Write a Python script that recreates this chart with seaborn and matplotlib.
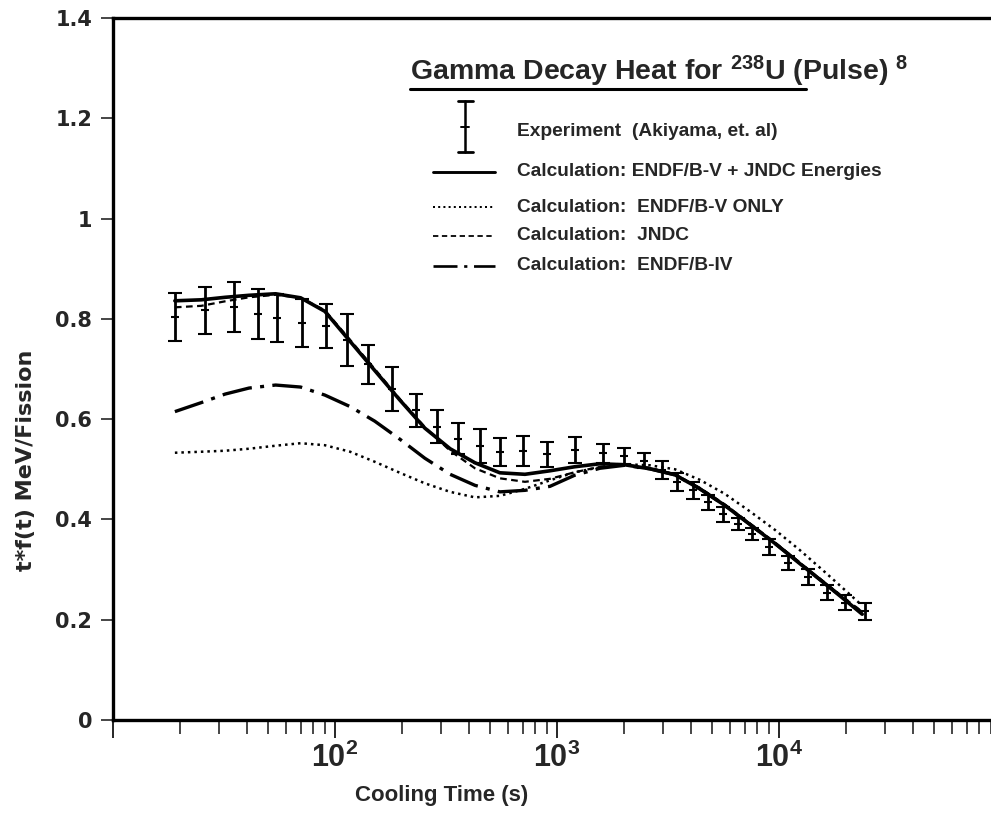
import matplotlib
matplotlib.use("Agg")
import numpy as np
import pandas as pd
import seaborn as sns
import matplotlib.pyplot as plt
from matplotlib.ticker import LogLocator, FuncFormatter, NullFormatter, FixedLocator

# ---------------- data ----------------
time_grid = [19, 25, 32, 41, 54, 70, 90, 117, 151, 196, 254, 330, 427, 553, 717,
             930, 1200, 1560, 2020, 2620, 3400, 4400, 5700, 7400, 9600, 12400,
             16100, 20900, 23700]
calc_b5_jndc = [0.836, 0.838, 0.843, 0.847, 0.850, 0.842, 0.815, 0.755, 0.697,
                0.638, 0.582, 0.541, 0.513, 0.493, 0.490, 0.497, 0.505, 0.511,
                0.509, 0.501, 0.489, 0.461, 0.428, 0.390, 0.352, 0.312, 0.272,
                0.231, 0.211]
calc_b5_only = [0.533, 0.535, 0.537, 0.541, 0.547, 0.552, 0.548, 0.535, 0.515,
                0.493, 0.472, 0.455, 0.444, 0.447, 0.461, 0.478, 0.494, 0.504,
                0.510, 0.508, 0.500, 0.479, 0.451, 0.416, 0.379, 0.339, 0.295,
                0.250, 0.228]
calc_jndc = [0.823, 0.826, 0.835, 0.843, 0.848, 0.842, 0.817, 0.758, 0.700,
             0.640, 0.584, 0.537, 0.502, 0.482, 0.475, 0.481, 0.494, 0.505,
             0.509, 0.503, 0.490, 0.463, 0.430, 0.392, 0.354, 0.314, 0.274,
             0.234, 0.216]
calc_b4 = [0.615, 0.633, 0.650, 0.662, 0.668, 0.664, 0.648, 0.625, 0.596,
           0.560, 0.522, 0.490, 0.468, 0.455, 0.458, 0.466, 0.488, 0.502,
           0.508, 0.501, 0.489, 0.461, 0.428, 0.390, 0.352, 0.313, 0.272,
           0.233, 0.214]

exp_time = [19, 26, 35, 45, 55, 71, 91, 113, 141, 180, 232, 288, 359, 450, 553,
            700, 897, 1200, 1607, 1995, 2455, 2963, 3480, 4080, 4790, 5600,
            6560, 7540, 9030, 10960, 13500, 16500, 19800, 24400]
exp_low = [0.756, 0.770, 0.774, 0.760, 0.754, 0.744, 0.742, 0.705, 0.670, 0.616,
           0.585, 0.552, 0.530, 0.512, 0.507, 0.507, 0.505, 0.512, 0.513, 0.511,
           0.502, 0.481, 0.457, 0.441, 0.419, 0.395, 0.378, 0.358, 0.329, 0.299,
           0.269, 0.239, 0.219, 0.199]
exp_high = [0.852, 0.864, 0.873, 0.860, 0.850, 0.840, 0.830, 0.809, 0.748, 0.703,
            0.650, 0.618, 0.592, 0.580, 0.562, 0.566, 0.555, 0.564, 0.550, 0.543,
            0.533, 0.517, 0.492, 0.475, 0.449, 0.425, 0.402, 0.382, 0.360, 0.327,
            0.302, 0.269, 0.249, 0.234]

y_ticks = [0, 0.2, 0.4, 0.6, 0.8, 1.0, 1.2, 1.4]
y_tick_labels = ["0", "0.2", "0.4", "0.6", "0.8", "1", "1.2", "1.4"]
legend_labels = ["Experiment  (Akiyama, et. al)",
                 "Calculation: ENDF/B-V + JNDC Energies",
                 "Calculation:  ENDF/B-V ONLY",
                 "Calculation:  JNDC",
                 "Calculation:  ENDF/B-IV"]

# ---------------- style ----------------
sns.set_theme(style="white")
plt.rcParams["font.family"] = ["Liberation Sans", "DejaVu Sans"]
plt.rcParams["font.weight"] = "bold"
plt.rcParams["mathtext.fontset"] = "custom"
plt.rcParams["mathtext.rm"] = "Liberation Sans:bold"
plt.rcParams["mathtext.bf"] = "Liberation Sans:bold"
plt.rcParams["mathtext.default"] = "rm"

fig = plt.figure(figsize=(9.91, 8.15), dpi=100)
ax = fig.add_axes([113 / 991, 1 - 720 / 815, 878 / 991, 702 / 815])

curves = pd.DataFrame({
    "t": time_grid * 4,
    "v": calc_b5_jndc + calc_b5_only + calc_jndc + calc_b4,
    "series": (["b5jndc"] * len(time_grid) + ["b5only"] * len(time_grid)
               + ["jndc"] * len(time_grid) + ["b4"] * len(time_grid)),
})

styles = {
    "b5jndc": dict(linestyle="-", linewidth=2.6),
    "b5only": dict(linestyle=(0, (1, 1.6)), linewidth=1.8),
    "jndc": dict(linestyle=(0, (3, 2)), linewidth=1.6),
    "b4": dict(linestyle=(0, (9, 2.5, 1.2, 2.5)), linewidth=2.4),
}
for key, st in styles.items():
    sub = curves[curves["series"] == key]
    sns.lineplot(data=sub, x="t", y="v", color="black", ax=ax,
                 estimator=None, sort=False, **st)

exp_mid = [(a + b) / 2 for a, b in zip(exp_low, exp_high)]
exp_err = [(b - a) / 2 for a, b in zip(exp_low, exp_high)]
ax.errorbar(exp_time, exp_mid, yerr=exp_err, fmt="_", color="black",
            markersize=6, markeredgewidth=1.5, elinewidth=2.0,
            capsize=5, capthick=2.2, zorder=5)

ax.set_xscale("log")
ax.set_xlim(10, 10 ** (1 + 878 / 222))
ax.set_ylim(0, 1.4)

ax.yaxis.set_major_locator(FixedLocator(y_ticks))
ax.set_yticklabels(y_tick_labels, fontfamily="DejaVu Sans", fontweight="bold")

ax.xaxis.set_major_locator(LogLocator(base=10, numticks=10))
ax.xaxis.set_minor_locator(LogLocator(base=10, subs=np.arange(2, 10), numticks=20))


def fmt(x, pos):
    e = int(round(np.log10(x)))
    if 2 <= e <= 4:
        return r"$\mathrm{10^{%d}}$" % e
    return ""


ax.xaxis.set_major_formatter(FuncFormatter(fmt))
ax.xaxis.set_minor_formatter(NullFormatter())

ax.tick_params(axis="y", which="major", direction="out", length=8.5, width=1.2,
               labelsize=15, pad=6.5, left=True)
ax.tick_params(axis="x", which="major", direction="out", length=13, width=1.4,
               labelsize=22, pad=3, bottom=True)
ax.tick_params(axis="x", which="minor", direction="out", length=10, width=1.2,
               bottom=True)

for side in ["left", "bottom", "top"]:
    ax.spines[side].set_linewidth(2.4)
    ax.spines[side].set_color("black")
ax.spines["right"].set_visible(False)

ax.set_xlabel("Cooling Time (s)", fontsize=16, fontweight="bold")
ax.set_ylabel("t*f(t) MeV/Fission", fontsize=16, fontweight="bold",
              fontfamily="DejaVu Sans")
ax.xaxis.set_label_coords((442 - 113) / 878, (720 - 785) / 702)
ax.yaxis.set_label_coords((36 - 113) / 878, (720 - 460) / 702)


def axc(px, py):
    return ((px - 113) / 878, (720 - py) / 702)


# title with underline
tx, ty = axc(410, 71)
ax.text(tx, ty, r"Gamma Decay Heat for $^{238}$U (Pulse) $^{8}$",
        transform=ax.transAxes, fontsize=20.5, fontweight="bold",
        ha="left", va="center")
ux0, uy = axc(410, 89)
ux1, _ = axc(806, 89)
ax.plot([ux0, ux1], [uy, uy], transform=ax.transAxes, color="black",
        linewidth=2.2, clip_on=False)

# legend (manual, borderless)
ex, ey_top = axc(465, 101)
_, ey_bot = axc(465, 152)
_, ey_mid = axc(465, 127)
cw = 7.5 / 878
ax.plot([ex, ex], [ey_bot, ey_top], transform=ax.transAxes, color="black", lw=1.8)
for yy in (ey_top, ey_bot):
    ax.plot([ex - cw, ex + cw], [yy, yy], transform=ax.transAxes, color="black", lw=2.0)
ax.plot([ex - 4 / 878, ex + 4 / 878], [ey_mid, ey_mid], transform=ax.transAxes,
        color="black", lw=1.4)

leg_rows = [131, 172, 207, 236, 266]
leg_styles = [None, styles["b5jndc"], styles["b5only"], styles["jndc"], styles["b4"]]
for py, lab, st in zip(leg_rows, legend_labels, leg_styles):
    lx0, ly = axc(433, py)
    lx1, _ = axc(495, py)
    if st is not None:
        ax.plot([lx0, lx1], [ly, ly], transform=ax.transAxes, color="black",
                linestyle=st["linestyle"], linewidth=st["linewidth"] * 0.8)
    txx, _ = axc(517, py)
    ax.text(txx, ly, lab, transform=ax.transAxes, fontsize=13.8,
            fontweight="bold", ha="left", va="center")

fig.savefig("out.png", dpi=100)
